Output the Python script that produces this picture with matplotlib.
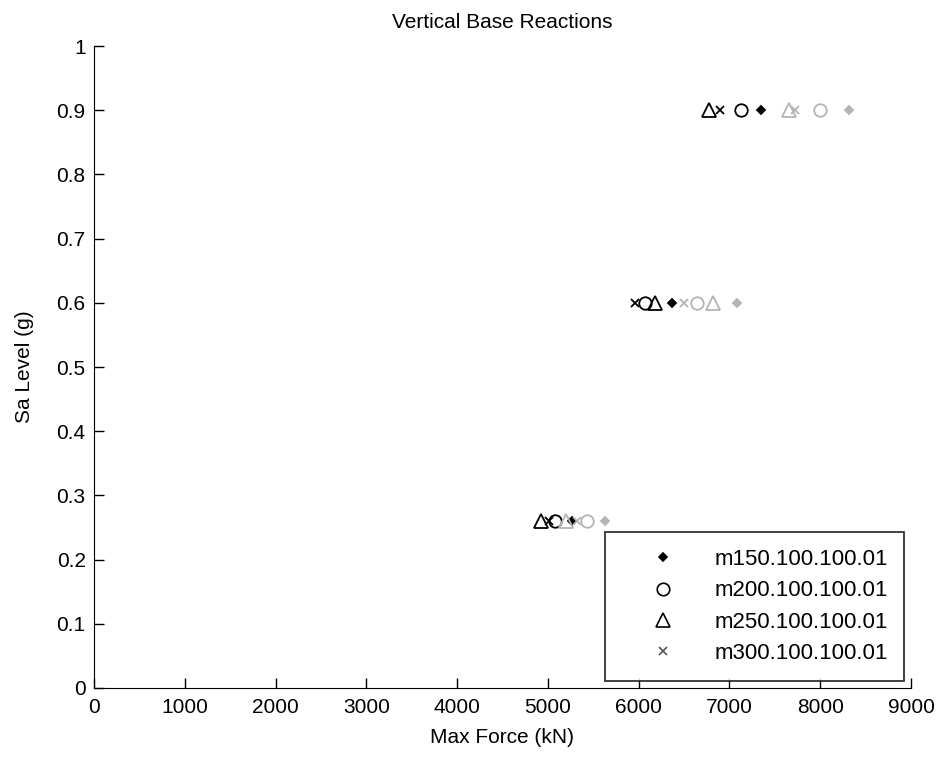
import matplotlib
matplotlib.use("Agg")
import matplotlib.pyplot as plt
from matplotlib.lines import Line2D

plt.rcParams['font.family'] = ['Liberation Sans', 'DejaVu Sans']

sa_levels = [0.26, 0.6, 0.9]
labels = ["m150.100.100.01", "m200.100.100.01", "m250.100.100.01", "m300.100.100.01"]
markers = ["D", "o", "^", "x"]
sizes = [4.5, 9, 10, 6]

# max vertical reaction (kN) per model, first analysis set (black)
force_set1 = {
    "m150.100.100.01": [5264, 6366, 7346],
    "m200.100.100.01": [5077, 6068, 7125],
    "m250.100.100.01": [4923, 6178, 6773],
    "m300.100.100.01": [5011, 5958, 6894],
}
# second analysis set (gray)
force_set2 = {
    "m150.100.100.01": [5628, 7081, 8315],
    "m200.100.100.01": [5430, 6641, 7996],
    "m250.100.100.01": [5198, 6817, 7654],
    "m300.100.100.01": [5320, 6498, 7720],
}

fig = plt.figure(figsize=(9.43, 7.63), dpi=100)
ax = fig.add_axes([0.0997, 0.0983, 0.8663, 0.8414])

gray = "#b4b4b4"
for lab, mk, ms in zip(labels, markers, sizes):
    ax.plot(force_set1[lab], sa_levels, linestyle="none", marker=mk, ms=ms,
            mfc=("black" if mk == "D" else "none"), mec="black", mew=1.3)
for lab, mk, ms in zip(labels, markers, sizes):
    ax.plot(force_set2[lab], sa_levels, linestyle="none", marker=mk, ms=ms,
            mfc=(gray if mk == "D" else "none"), mec=gray, mew=1.3)

ax.set_xlim(0, 9000)
ax.set_ylim(0, 1)
ax.set_xticks(range(0, 9001, 1000))
ax.set_yticks([i / 10 for i in range(11)])
ax.set_yticklabels(["0"] + [f"{i/10:.1f}" for i in range(1, 10)] + ["1"])
ax.tick_params(direction="in", length=7, labelsize=15, width=1)
ax.tick_params(axis="x", pad=7)
ax.tick_params(axis="y", pad=6)
ax.spines["top"].set_visible(False)
ax.spines["right"].set_visible(False)
ax.set_xlabel("Max Force (kN)", fontsize=15, labelpad=8)
ax.set_ylabel("Sa Level (g)", fontsize=15, labelpad=16)
ax.set_title("Vertical Base Reactions", fontsize=15, pad=13)

handles = [Line2D([], [], linestyle="none", marker=mk, ms=ms,
                  mfc=("black" if mk == "D" else "none"), mec=("#555555" if mk == "x" else "black"), mew=1.2)
           for mk, ms in zip(markers, sizes)]
leg = ax.legend(handles, labels, loc="lower right", bbox_to_anchor=(0.992, 0.011),
                borderaxespad=0, fontsize=16, frameon=True, fancybox=False, edgecolor="black",
                handlelength=3.7, handletextpad=0.47, borderpad=0.75, labelspacing=0.47)
leg.get_frame().set_linewidth(1.3)

fig.savefig("out.png", dpi=100)
